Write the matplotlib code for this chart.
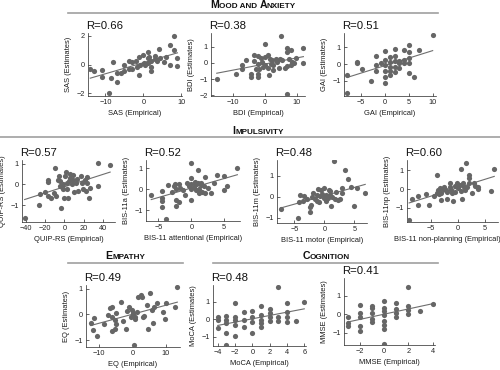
import numpy as np
import matplotlib
matplotlib.use("Agg")
import matplotlib.pyplot as plt
from matplotlib.ticker import MultipleLocator
from matplotlib.offsetbox import TextArea, HPacker, AnchoredOffsetbox

plt.rcParams["font.family"] = ["Liberation Sans", "DejaVu Sans"]

# ======================================================
# Data
# ======================================================

sas_x = [-14.0, -12.9, -11.0, -11.0, -8.6, -8.0, -9.0, -7.0, -7.0, -5.9, -5.0, -5.0,
         -3.9, -3.9, -2.9, -2.0, -1.1, -1.1, -0.9, 0.0, 0.2, 1.1, 1.1, 1.1, 2.0, 2.0,
         2.0, 3.0, 3.6, 4.1, 4.5, 5.4, 6.1, 7.0, 7.0, 8.1, 8.1, 9.0, 9.0, 3.2, 0.5,
         -1.6, 1.6, -2.9]
sas_y = [-0.28, -0.44, -0.35, -0.85, -0.97, 0.15, -2.0, -1.2, -0.58, -0.58, 0.0, -0.46,
         0.25, -0.28, -0.28, 0.23, -0.7, 0.53, 0.0, 0.65, 0.12, 0.88, 0.48, 0.07, 0.23,
         -0.16, -0.44, 0.37, 0.23, 1.1, 0.42, 0.18, 0.53, 1.38, 0.0, 1.0, 1.98, 0.42,
         -0.09, 0.6, 0.0, -0.16, 0.53, 0.18]

bdi_x = [-15.2, -9.2, -7.2, -7.2, -6.1, -4.5, -4.5, -3.4, -3.4, -3.0, -2.3, -2.2, -2.2,
         -2.2, -2.0, -1.1, -0.7, 0.0, 0.0, 0.0, 0.8, 1.0, 1.3, 1.5, 2.2, 2.4, 2.6, 3.3,
         3.7, 4.3, 4.8, 5.1, 5.4, 6.2, 7.0, 7.0, 7.0, 7.0, 7.6, 8.0, 8.0, 8.4, 8.9, 9.8,
         12.0, 12.0, 1.9, -1.4]
bdi_y = [-0.98, -0.67, -0.35, -0.15, 0.17, -0.67, -0.88, 0.48, 0.13, -0.35, 0.44, -0.04,
         -0.67, -0.88, -0.35, 0.06, -0.25, 1.17, 0.38, -0.15, 0.48, -0.31, -0.73, 0.27,
         0.17, -0.15, -0.46, 0.27, 0.06, -0.31, 0.21, 1.69, 0.17, -0.31, 0.94, 0.69,
         -0.19, -1.92, 0.27, 0.79, -0.15, 0.06, 0.02, 0.31, 0.94, 0.0, -0.04, 0.31]

gai_x = [-7.9, -7.9, -5.9, -4.9, -3.0, -1.9, -1.9, -1.9, 0.0, 0.0, 0.0, 0.0, 0.0, 0.0,
         1.0, 1.0, 1.0, 1.0, 2.1, 2.1, 2.1, 2.1, 2.1, 3.0, 3.0, 3.0, 4.0, 4.0, 4.0, 5.1,
         5.1, 5.1, 5.1, 5.1, 6.1, 7.2, 10.0, 1.0, -0.9, -5.8]
gai_y = [-1.7, -0.64, 0.06, -0.3, -1.0, 0.5, -0.04, -0.38, 0.76, 0.26, -0.04, -0.38,
         -0.74, -1.1, 0.42, 0.1, -0.14, -0.38, 0.9, 0.5, 0.16, -0.14, -0.44, 0.16, -0.24,
         0.06, 0.82, 0.26, 0.06, 1.16, 0.7, 0.36, 0.06, -0.5, -0.74, 0.82, 1.72, -0.64,
         0.06, 0.14]

quip_x = [-41.0, -26.4, -25.4, -19.7, -16.9, -16.9, -16.9, -13.6, -11.2, -9.5, -8.5,
          -7.1, -6.1, -4.4, -3.7, -2.7, -1.0, -1.0, -0.3, 0.7, 1.4, 2.4, 2.4, 3.4, 4.7,
          5.8, 7.5, 8.5, 9.2, 9.8, 11.9, 12.5, 14.2, 16.6, 17.6, 19.3, 21.0, 22.0, 23.4,
          23.4, 26.0, 25.4, 35.0, 35.0, 47.0, 5.8, -4.4]
quip_y = [-1.61, -0.98, -0.44, -0.36, 0.11, 0.2, -0.55, -0.63, -0.39, 0.78, -0.55, 0.23,
          0.39, 0.16, -1.14, -0.11, 0.0, -0.23, -0.63, 0.39, 0.58, 0.08, -0.2, -0.67,
          0.16, 0.31, 0.0, 0.2, 0.47, -0.36, 0.08, 0.27, -0.31, 0.39, 0.08, -0.23, 0.23,
          -0.31, 0.36, 0.08, -0.16, -0.63, -0.08, 1.05, 0.94, 0.52, -0.08]

bisa_x = [-6.1, -4.5, -4.5, -4.5, -4.5, -3.9, -3.5, -2.9, -2.7, -2.5, -2.4, -2.3, -2.4,
          -1.9, -1.9, -1.7, -1.2, -1.0, -0.7, -0.4, 0.0, 0.0, 0.0, 0.0, 0.0, 0.35, 0.5,
          0.7, 1.0, 1.0, 1.1, 1.4, 1.5, 1.6, 1.9, 2.0, 2.1, 2.5, 3.0, 3.5, 3.9, 5.0, 5.0,
          5.4, 7.0, 1.2, 0.7]
bisa_y = [-0.27, -0.06, -0.4, -0.54, -0.86, -1.42, 0.21, -0.11, 0.16, 0.26, 0.0, -0.51,
          -0.78, -0.59, 0.24, 0.05, -0.03, -0.27, 0.29, 0.16, 1.28, 0.53, 0.26, 0.0,
          -0.51, 0.13, 0.37, -0.03, 0.9, 0.29, -0.19, 0.21, 0.32, -0.11, 0.16, 0.61,
          -0.16, 0.05, -0.16, 0.32, 0.69, 0.64, -0.03, 0.16, 1.04, 0.0, 0.24]

bism_x = [-7.3, -4.0, -4.3, -4.4, -3.4, -3.6, -2.9, -2.4, -2.4, -2.2, -2.1, -1.9, -1.6,
          -1.2, -1.1, -0.9, -0.7, -0.6, -0.4, -0.1, 0.0, 0.2, 0.3, 0.6, 0.7, 1.0, 1.1,
          1.3, 1.6, 1.8, 2.0, 2.2, 2.6, 2.9, 2.9, 3.5, 3.9, 4.4, 5.0, 5.4, 6.8, -1.2, 1.0]
bism_y = [-0.58, 0.08, -0.24, -1.02, 0.02, -0.19, -0.11, -0.5, -0.74, -0.39, -0.03, 0.17,
          -0.11, 0.08, 0.36, -0.24, 0.02, 0.33, 0.13, -0.08, 0.44, -0.19, 0.08, -0.08,
          0.33, 0.08, -0.46, -0.03, 1.7, -0.11, 0.24, -0.14, -0.11, 0.44, 0.2, 1.26,
          0.83, 0.47, -0.43, 0.44, 0.17, -0.19, 0.28]

bisnp_x = [-9.1, -8.6, -7.5, -7.5, -6.0, -5.5, -4.4, -4.0, -4.0, -3.8, -3.6, -3.4, -3.2,
           -3.1, -2.8, -2.6, -2.3, -2.0, -2.0, -1.5, -1.5, -1.4, -1.1, -0.9, -0.6, -0.5,
           -0.3, -0.1, 0.0, 0.3, 0.5, 0.6, 0.7, 0.9, 1.1, 1.5, 1.7, 2.0, 2.1, 2.1, 2.5,
           2.9, 3.1, 3.6, 3.7, 6.1, 6.7, 1.35]
bisnp_y = [-1.62, -0.55, -0.37, -0.86, -0.28, -0.86, -0.37, 0.75, -0.23, -0.05, -0.28,
           0.04, -0.19, -0.59, -0.02, 0.09, -0.05, -0.14, -0.55, 0.3, 0.13, -0.05, -0.23,
           -0.62, 0.16, -0.14, 0.34, 0.04, 0.09, 0.21, 1.05, -0.09, -0.5, 0.3, 0.13, 1.41,
           0.09, 0.3, 0.75, 0.57, -0.23, 0.3, 0.16, -0.02, 0.09, -0.11, 1.05, -0.05]

eq_x = [-12.6, -11.8, -11.5, -10.8, -7.3, -6.8, -6.3, -6.1, -6.1, -5.3, -5.3, -5.1, -5.0,
        -3.6, -3.0, -2.0, -1.6, -1.0, -0.6, -0.3, 0.0, 0.2, 0.4, 0.7, 1.2, 1.7, 2.4, 2.7,
        3.0, 3.4, 4.2, 4.7, 5.2, 5.7, 6.0, 6.4, 7.2, 9.2, 9.7, 10.0, 12.7, 13.4, 0.7, -8.6]
eq_y = [-0.35, -0.61, -0.13, -0.84, -0.03, 0.26, -0.09, 0.3, -0.65, -0.22, -0.58, 0.04,
        -0.39, 0.5, -0.26, -0.55, 0.13, 0.3, -0.09, 0.17, 0.04, -0.03, -1.18, -0.16, 0.1,
        0.69, 0.76, 0.69, -0.09, -0.07, 0.37, -0.55, 0.82, 0.17, -0.35, 0.3, 0.43, 0.1,
        -0.16, 0.43, 0.3, 1.08, -0.09, -0.39]

moca_x = [-4, -4, -4, -3, -3, -3, -3, -3, -2, -2, -2, -2, -2, -1, -1, -1, 0, 0, 0, 0,
          1, 1, 1, 1, 1, 2, 2, 2, 2, 3, 3, 3, 4, 4, 4, 4, 5, 6]
moca_y = [0.15, -0.04, -0.51, 0.19, -0.04, -0.23, -0.76, -1.47, 0.91, 0.15, -0.04, -0.32,
          -0.95, 0.44, -0.04, -0.42, 0.5, 0.11, -0.13, -0.8, 0.78, 0.25, -0.04, -0.23,
          -0.42, 0.57, 0.34, 0.11, -0.1, 1.83, 0.11, -0.08, 0.91, 0.44, 0.11, -0.13,
          -0.08, 0.99]

mmse_x = [-3, -3, -3, -2, -2, -2, -2, -2, -1, -1, -1, -1, -1, 0, 0, 0, 0, 0, 0, 0, 0,
          1, 1, 1, 1, 2, 2, 2, 2, 3, 4]
mmse_y = [-0.18, -0.49, -0.62, 0.51, 0.05, -0.13, -0.62, -0.91, 0.47, 0.33, 0.05, -0.25,
          -0.44, 0.73, 0.36, 0.15, -0.07, -0.36, -0.58, -0.8, -1.62, 0.6, 0.29, 0.05,
          -0.13, 1.47, 0.42, 0.24, 0.02, 0.18, 0.55]

r_values = ["0.66", "0.38", "0.51", "0.57", "0.52", "0.48", "0.60", "0.49", "0.48", "0.41"]

# ======================================================
# Figure
# ======================================================

W, H = 500, 370
fig = plt.figure(figsize=(5, 3.7), dpi=100)

DOT = "#666666"
FIT = "#6e6e6e"
RULE = "#a0a0a0"
INK = "#262626"


def px_axes(left, top, right, bottom):
    return fig.add_axes([left / W, 1 - bottom / H, (right - left) / W, (bottom - top) / H])


def panel(box, x, y, r, xlab, ylab, xlim, ylim, xstep, ystep, xlab_x=0.5):
    ax = px_axes(*box)
    x = np.asarray(x, float)
    y = np.asarray(y, float)

    ax.scatter(x, y, s=14, color=DOT, linewidths=0, zorder=3)

    slope, icpt = np.polyfit(x, y, 1)
    xs = np.array([x.min(), x.max()])
    ax.plot(xs, slope * xs + icpt, color=FIT, lw=0.8, zorder=2)

    ax.set_xlim(*xlim)
    ax.set_ylim(*ylim)
    ax.xaxis.set_major_locator(MultipleLocator(xstep))
    ax.yaxis.set_major_locator(MultipleLocator(ystep))

    for side in ("top", "right"):
        ax.spines[side].set_visible(False)
    for side in ("left", "bottom"):
        ax.spines[side].set_linewidth(0.5)
        ax.spines[side].set_color(INK)

    ax.tick_params(direction="in", length=2, width=0.5, labelsize=5.3,
                   pad=2.5, colors=INK)
    ax.set_xlabel(xlab, fontsize=5.4, labelpad=2.5, color="#1a1a1a")
    ax.set_ylabel(ylab, fontsize=5.4, labelpad=3, color="#1a1a1a")
    ax.xaxis.label.set_x(xlab_x)

    ax.text(-0.02, 1.06, "R=" + r, transform=ax.transAxes,
            ha="left", va="baseline", fontsize=8.2, color="#111111")
    return ax


panel((88, 33, 182, 96), sas_x, sas_y, r_values[0], "SAS (Empirical)", "SAS (Estimates)",
      (-14.6, 10.2), (-2.2, 2.2), 10, 2)
panel((211, 33, 305, 96), bdi_x, bdi_y, r_values[1], "BDI (Empirical)", "BDI (Estimates)",
      (-17, 12.5), (-2.05, 1.85), 10, 1)
panel((344, 33, 436, 96), gai_x, gai_y, r_values[2], "GAI (Empirical)", "GAI (Estimates)",
      (-8.6, 10.7), (-1.9, 1.86), 5, 1)

panel((22, 160, 115, 222), quip_x, quip_y, r_values[3], "QUIP-RS (Empirical)",
      "QUIP-RS (Estimates)", (-43.7, 52), (-1.8, 1.17), 20, 1)
panel((146, 160, 240, 221), bisa_x, bisa_y, r_values[4], "BIS-11 attentional (Empirical)",
      "BIS-11a (Estimates)", (-6.9, 7.4), (-1.52, 1.4), 5, 1)
panel((277, 160, 367, 223), bism_x, bism_y, r_values[5], "BIS-11 motor (Empirical)",
      "BIS-11m (Estimates)", (-7.9, 7.1), (-1.25, 1.75), 5, 1)
panel((407, 160, 498, 222), bisnp_x, bisnp_y, r_values[6], "BIS-11 non-planning (Empirical)",
      "BIS-11np (Estimates)", (-9.5, 7.4), (-1.75, 1.55), 5, 1, xlab_x=0.44)

panel((86, 285, 180, 347), eq_x, eq_y, r_values[7], "EQ (Empirical)", "EQ (Estimates)",
      (-14, 14.2), (-1.27, 1.15), 10, 1)
panel((213, 285, 306, 346), moca_x, moca_y, r_values[8], "MoCA (Empirical)",
      "MoCA (Estimates)", (-4.55, 6.2), (-1.52, 1.96), 2, 1)
panel((344, 278, 435, 345), mmse_x, mmse_y, r_values[9], "MMSE (Empirical)",
      "MMSE (Estimates)", (-3.3, 4.2), (-1.67, 1.96), 2, 1)

# ----------------------------
# Section headers (small caps)
# ----------------------------


def small_caps(runs, cx, cy):
    boxes = []
    for txt, big in runs:
        boxes.append(TextArea(txt, textprops=dict(fontsize=7.6 if big else 5.9,
                                                  fontweight="bold", color="#111111")))
    pack = HPacker(children=boxes, align="baseline", pad=0, sep=0)
    anch = AnchoredOffsetbox(loc="center", child=pack, pad=0, borderpad=0, frameon=False,
                             bbox_to_anchor=(cx / W, 1 - cy / H),
                             bbox_transform=fig.transFigure)
    fig.add_artist(anch)


def rule(x0, x1, yy):
    fig.add_artist(plt.Line2D([x0 / W, x1 / W], [1 - yy / H, 1 - yy / H],
                              color=RULE, lw=1.2, transform=fig.transFigure))


small_caps([("M", True), ("OOD AND ", False), ("A", True), ("NXIETY", False)], 253, 5.5)
rule(68, 438, 12.5)

small_caps([("I", True), ("MPULSIVITY", False)], 258, 131)
rule(0, 500, 136.5)

small_caps([("E", True), ("MPATHY", False)], 125, 256)
rule(68, 183, 262.5)

small_caps([("C", True), ("OGNITION", False)], 326, 256)
rule(213, 438, 262.5)

fig.savefig("out.png", dpi=100)
